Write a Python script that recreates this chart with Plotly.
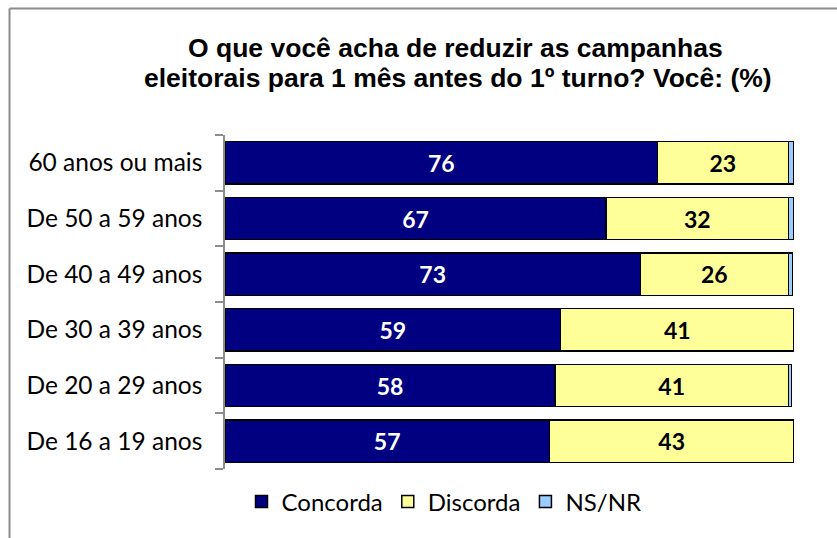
import plotly.graph_objects as go

categories = ["De 16 a 19 anos", "De 20 a 29 anos", "De 30 a 39 anos",
              "De 40 a 49 anos", "De 50 a 59 anos", "60 anos ou mais"]
concorda = [57, 58, 59, 73, 67, 76]
discorda = [43, 41, 41, 26, 32, 23]
nsnr = [0, 0.6, 0, 0.7, 1, 1]

title_lines = ["O que você acha de reduzir as campanhas",
               "eleitorais para 1 mês antes do 1º turno? Você: (%)"]

W, H = 837, 538
ML, MR, MT, MB = 225, 43, 135, 69
PW, PH = W - ML - MR, H - MT - MB


def px_x(p):
    return (p - ML) / PW


def px_y(p):
    return (H - MB - p) / PH


fig = go.Figure()
line = dict(color="black", width=1.5)
fig.add_trace(go.Bar(
    y=categories, x=concorda, name="Concorda", orientation="h",
    marker=dict(color="#000080", line=line),
    text=[f"{v:.0f}" for v in concorda], textposition="inside",
    insidetextanchor="middle",
    textfont=dict(color="white", size=23, family="Lato", weight="bold"),
))
fig.add_trace(go.Bar(
    y=categories, x=discorda, name="Discorda", orientation="h",
    marker=dict(color="#FFFF99", line=line),
    text=[f"{v:.0f}" for v in discorda], textposition="inside",
    insidetextanchor="middle",
    textfont=dict(color="black", size=23, family="Lato", weight="bold"),
))
fig.add_trace(go.Bar(
    y=categories, x=nsnr, name="NS/NR", orientation="h",
    marker=dict(color="#99CCFF", line=line),
    textposition="none",
))

annotations = [
    dict(text=title_lines[0], xref="paper", yref="paper", x=px_x(455), y=px_y(48),
         xanchor="center", yanchor="middle", showarrow=False,
         font=dict(family="Liberation Sans", size=26.5, color="black", weight="bold")),
    dict(text=title_lines[1], xref="paper", yref="paper", x=px_x(458), y=px_y(78),
         xanchor="center", yanchor="middle", showarrow=False,
         font=dict(family="Liberation Sans", size=26.5, color="black", weight="bold")),
]

fig.update_layout(
    width=W, height=H,
    barmode="stack", bargap=0.24,
    plot_bgcolor="white", paper_bgcolor="white",
    margin=dict(l=ML, r=MR, t=MT, b=MB),
    annotations=annotations,
    xaxis=dict(range=[0, 100], visible=False, fixedrange=True),
    yaxis=dict(showline=True, linecolor="#8c8c8c", linewidth=1.5,
               ticks="outside", ticklen=8, tickcolor="#8c8c8c", tickwidth=1.5,
               tickson="boundaries", ticklabelstandoff=16, fixedrange=True,
               tickfont=dict(family="Lato", size=24.5, color="black")),
    legend=dict(orientation="h", x=px_x(444), xanchor="center", y=px_y(502), yanchor="middle",
                font=dict(family="Lato", size=24, color="black"),
                itemwidth=30, traceorder="normal"),
    showlegend=True,
    shapes=[
        dict(type="line", xref="paper", yref="paper",
             x0=px_x(9.5), x1=px_x(850), y0=px_y(8.5), y1=px_y(8.5),
             line=dict(color="#8c8c8c", width=2)),
        dict(type="line", xref="paper", yref="paper",
             x0=px_x(9.5), x1=px_x(9.5), y0=px_y(8.5), y1=px_y(560),
             line=dict(color="#8c8c8c", width=2)),
    ],
)

fig.write_html("out.html", config={"displayModeBar": False},
               post_script="document.body.style.margin='0';")
